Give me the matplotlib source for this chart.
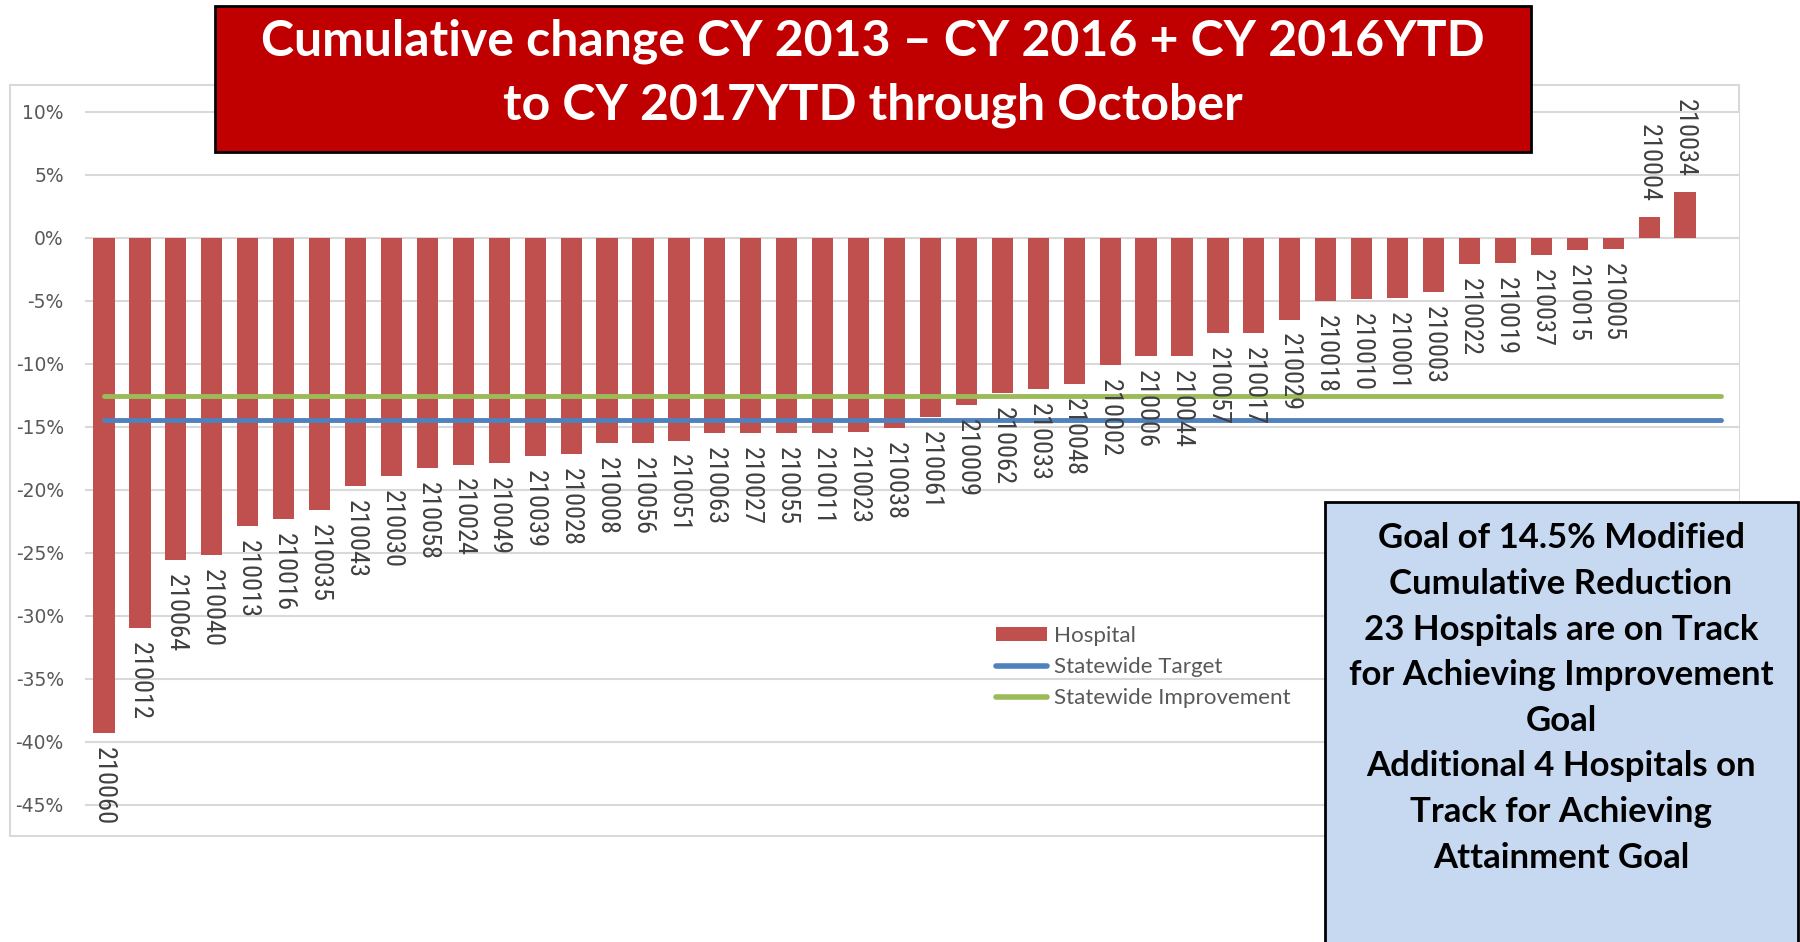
import numpy as np
import matplotlib
matplotlib.use("Agg")
import matplotlib.pyplot as plt
from matplotlib.patches import Rectangle, Patch
from matplotlib.lines import Line2D
from matplotlib import font_manager as fm

# ---------------- data ----------------
hospitals = ["210060", "210012", "210064", "210040", "210013", "210016", "210035",
             "210043", "210030", "210058", "210024", "210049", "210039", "210028",
             "210008", "210056", "210051", "210063", "210027", "210055", "210011",
             "210023", "210038", "210061", "210009", "210062", "210033", "210048",
             "210002", "210006", "210044", "210057", "210017", "210029", "210018",
             "210010", "210001", "210003", "210022", "210019", "210037", "210015",
             "210005", "210004", "210034"]
values = [-39.3, -31.0, -25.6, -25.2, -22.9, -22.3, -21.6,
          -19.7, -18.9, -18.3, -18.0, -17.9, -17.3, -17.2,
          -16.3, -16.3, -16.1, -15.5, -15.5, -15.5, -15.5,
          -15.4, -15.1, -14.2, -13.3, -12.3, -12.0, -11.6,
          -10.1, -9.4, -9.4, -7.6, -7.6, -6.5, -5.0,
          -4.9, -4.8, -4.3, -2.1, -2.0, -1.4, -1.0,
          -0.9, 1.6, 3.6]
statewide_target = -14.5
statewide_improvement = -12.6
yticks = [10, 5, 0, -5, -10, -15, -20, -25, -30, -35, -40, -45]
series_names = ["Hospital", "Statewide Target", "Statewide Improvement"]
title_lines = ["Cumulative change CY 2013 \u2013 CY 2016 + CY 2016YTD",
               "to CY 2017YTD through October"]
box_lines = ["Goal of 14.5% Modified", "Cumulative Reduction",
             "23 Hospitals are on Track", "for Achieving Improvement", "Goal",
             "Additional 4 Hospitals on", "Track for Achieving", "Attainment Goal"]


def pick(names):
    for n in names:
        try:
            fm.findfont(fm.FontProperties(family=n), fallback_to_default=False)
            return n
        except Exception:
            pass
    return "DejaVu Sans"


label_font = pick(["Liberation Sans Narrow", "Roboto Condensed", "DejaVu Sans"])
tick_font = "DejaVu Sans"
legend_font = pick(["Lato", "Liberation Sans"])
title_font = pick(["Lato", "DejaVu Sans"])

W, H = 1800, 942
fig = plt.figure(figsize=(W / 100, H / 100), dpi=100)


def fx(px):
    return px / W


def fy(py):
    return 1 - py / H


# chart outer border
fig.add_artist(Rectangle((fx(10), fy(836)), fx(1739) - fx(10), fy(85) - fy(836),
                         transform=fig.transFigure, fill=False,
                         edgecolor="#D9D9D9", lw=1.5, zorder=0))

ax = fig.add_axes([fx(86), fy(805), fx(1739) - fx(86), fy(111.5) - fy(805)])
n = len(hospitals)
x = np.arange(n)
ax.bar(x, values, width=0.59, color="#C0504D", zorder=2)
xl = np.arange(n + 1)
ax.plot(xl, [statewide_target] * (n + 1), color="#4F81BD", lw=3.5,
        solid_capstyle="round", zorder=3)
ax.plot(xl, [statewide_improvement] * (n + 1), color="#9BBB59", lw=3.5,
        solid_capstyle="round", zorder=3)
ax.set_xlim(-0.5, n + 0.5)
ax.set_ylim(-45, 10)
ax.set_yticks(yticks)
ax.set_yticklabels([f"{t}%" for t in yticks], family=tick_font)
ax.yaxis.grid(True, color="#D9D9D9", lw=1.5)
ax.set_axisbelow(True)
for s in ax.spines.values():
    s.set_visible(False)
ax.tick_params(axis="y", length=0, pad=16, labelsize=13.5, labelcolor="#595959")
ax.set_xticks([])
for gl in ax.get_ygridlines():
    gl.set_clip_on(False)

for xi, v, lab in zip(x, values, hospitals):
    if v < 0:
        ax.annotate(lab, (xi, v), xytext=(0, -10), textcoords="offset points",
                    rotation=-90, ha="center", va="top", fontsize=19,
                    family=label_font, color="#404040", zorder=4)
    else:
        ax.annotate(lab, (xi, v), xytext=(0, 11), textcoords="offset points",
                    rotation=-90, ha="center", va="bottom", fontsize=19,
                    family=label_font, color="#404040", zorder=4)

handles = [Patch(facecolor="#C0504D", edgecolor="none"),
           Line2D([], [], color="#4F81BD", lw=4, solid_capstyle="round"),
           Line2D([], [], color="#9BBB59", lw=4, solid_capstyle="round")]
ax.legend(handles, series_names, loc="upper left",
          bbox_to_anchor=(fx(996), fy(626)), bbox_transform=fig.transFigure,
          frameon=False, prop={"family": legend_font, "size": 16.1},
          labelcolor="#595959", handlelength=2.3, handleheight=0.63,
          handletextpad=0.3, labelspacing=0.5, borderpad=0, borderaxespad=0)

# title box
fig.add_artist(Rectangle((fx(215), fy(152)), fx(1531) - fx(215), fy(6) - fy(152),
                         transform=fig.transFigure, facecolor="#C00000",
                         edgecolor="black", lw=2, zorder=5))
for ln, base in zip(title_lines, [55, 120]):
    fig.text(fx(873), fy(base), ln, ha="center", va="baseline", color="white",
             fontsize=36, fontweight="bold", family=title_font, zorder=6)

# annotation box
fig.add_artist(Rectangle((fx(1325), fy(970)), fx(1798) - fx(1325), fy(502) - fy(970),
                         transform=fig.transFigure, facecolor="#C6D9F1",
                         edgecolor="black", lw=2, zorder=5))
for i, ln in enumerate(box_lines):
    fig.text(fx(1561), fy(548.5 + 45.6 * i), ln, ha="center", va="baseline",
             color="black", fontsize=25, fontweight="bold", family=title_font,
             zorder=6)

fig.savefig("out.png", dpi=100)
